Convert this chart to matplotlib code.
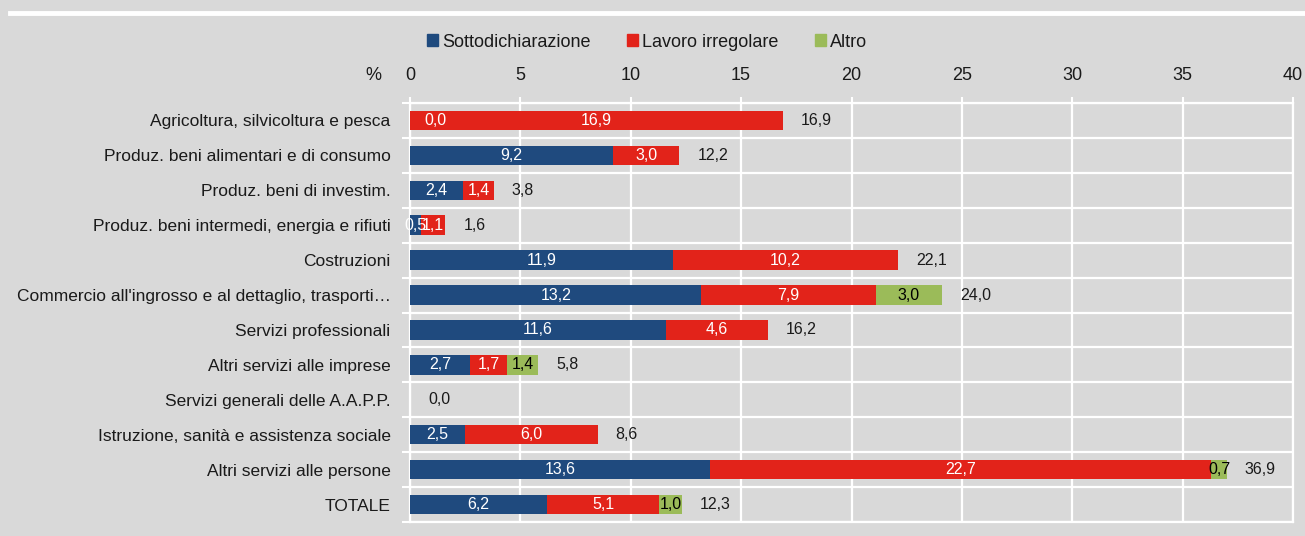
import matplotlib
matplotlib.use("Agg")
from matplotlib import pyplot as plt
from matplotlib.lines import Line2D
from matplotlib.patches import Patch
import numpy as np

# data
categories = [
    "Agricoltura, silvicoltura e pesca",
    "Produz. beni alimentari e di consumo",
    "Produz. beni di investim.",
    "Produz. beni intermedi, energia e rifiuti",
    "Costruzioni",
    "Commercio all'ingrosso e al dettaglio, trasporti…",
    "Servizi professionali",
    "Altri servizi alle imprese",
    "Servizi generali delle A.A.P.P.",
    "Istruzione, sanità e assistenza sociale",
    "Altri servizi alle persone",
    "TOTALE",
]
sottodichiarazione = [0.0, 9.2, 2.4, 0.5, 11.9, 13.2, 11.6, 2.7, None, 2.5, 13.6, 6.2]
lavoro_irregolare = [16.9, 3.0, 1.4, 1.1, 10.2, 7.9, 4.6, 1.7, 0.0, 6.0, 22.7, 5.1]
altro = [0.0, 0.0, 0.0, 0.0, 0.0, 3.0, 0.0, 1.4, 0.0, 0.0, 0.7, 1.0]
totale = [16.9, 12.2, 3.8, 1.6, 22.1, 24.0, 16.2, 5.8, 0.0, 8.6, 36.9, 12.3]
x_ticks = [0, 5, 10, 15, 20, 25, 30, 35, 40]

BLUE = "#1f4a7e"
RED = "#e2231a"
GREEN = "#9bbb59"
BG = "#d9d9d9"
TXT = "#1a1a1a"

plt.rcParams["font.family"] = ["Liberation Sans Narrow", "Liberation Sans", "DejaVu Sans"]


def fmt(v):
    return f"{v:.1f}".replace(".", ",")


fig = plt.figure(figsize=(13.05, 5.36), dpi=100, facecolor=BG)
ax = fig.add_axes([410 / 1305, 1 - 522 / 536, 883 / 1305, 419 / 536])
ax.set_facecolor(BG)

y = np.arange(len(categories))
s_vals = np.array([0.0 if v is None else v for v in sottodichiarazione])
l_vals = np.array(lavoro_irregolare)
a_vals = np.array(altro)
h = 0.56

ax.barh(y, s_vals, height=h, color=BLUE, zorder=3)
ax.barh(y, l_vals, left=s_vals, height=h, color=RED, zorder=3)
ax.barh(y, a_vals, left=s_vals + l_vals, height=h, color=GREEN, zorder=3)

fs = 11.5
for i in range(len(categories)):
    sv = sottodichiarazione[i]
    if sv is not None:
        if sv == 0:
            ax.annotate(fmt(sv), (0, y[i]), xytext=(10, 0), textcoords="offset points",
                        ha="left", va="center", color="white", fontsize=fs, zorder=4)
        else:
            ax.text(sv / 2, y[i], fmt(sv), ha="center", va="center",
                    color="white", fontsize=fs, zorder=4)
    if l_vals[i] > 0:
        ax.text(s_vals[i] + l_vals[i] / 2, y[i], fmt(l_vals[i]), ha="center",
                va="center", color="white", fontsize=fs, zorder=4)
    if a_vals[i] > 0:
        ax.text(s_vals[i] + l_vals[i] + a_vals[i] / 2, y[i], fmt(a_vals[i]),
                ha="center", va="center", color="black", fontsize=fs, zorder=4)
    ax.annotate(fmt(totale[i]), (s_vals[i] + l_vals[i] + a_vals[i], y[i]),
                xytext=(13, 0), textcoords="offset points", ha="left",
                va="center", color=TXT, fontsize=fs, zorder=4)

ax.set_xlim(0, 40)
ax.set_ylim(len(categories) - 0.5, -0.5)
ax.set_xticks(x_ticks)
ax.set_xticklabels([str(t) for t in x_ticks])
ax.xaxis.tick_top()
ax.tick_params(axis="x", direction="out", length=4, width=1.5, color="white",
               labelsize=13, labelcolor=TXT, pad=10)
ax.set_yticks(y)
ax.set_yticklabels(categories)
ax.set_yticks(np.arange(-0.5, len(categories)), minor=True)
ax.tick_params(axis="y", which="major", length=0, pad=14, labelsize=12.5, labelcolor=TXT)
ax.tick_params(axis="y", which="minor", direction="out", length=6, width=1.5, color="white")
ax.grid(axis="x", color="white", linewidth=1.6, zorder=1)
ax.grid(axis="y", which="minor", color="white", linewidth=1.6, zorder=1)
for sp in ax.spines.values():
    sp.set_color("white")
    sp.set_linewidth(1.6)

fig.text(373 / 1305, 1 - 75 / 536, "%", ha="center", va="center",
         fontsize=13, color=TXT)

handles = [Patch(color=BLUE), Patch(color=RED), Patch(color=GREEN)]
fig.legend(handles, ["Sottodichiarazione", "Lavoro irregolare", "Altro"],
           loc="center", bbox_to_anchor=(0.496, 1 - 42 / 536), ncol=3,
           frameon=False, fontsize=13, handlelength=0.6, handleheight=0.6,
           handletextpad=0.25, columnspacing=2.0, labelcolor=TXT)

fig.add_artist(Line2D([10 / 1305, 1], [1 - 13 / 536] * 2, color="white", lw=3.5))

fig.savefig("out.png", dpi=100, facecolor=BG)
